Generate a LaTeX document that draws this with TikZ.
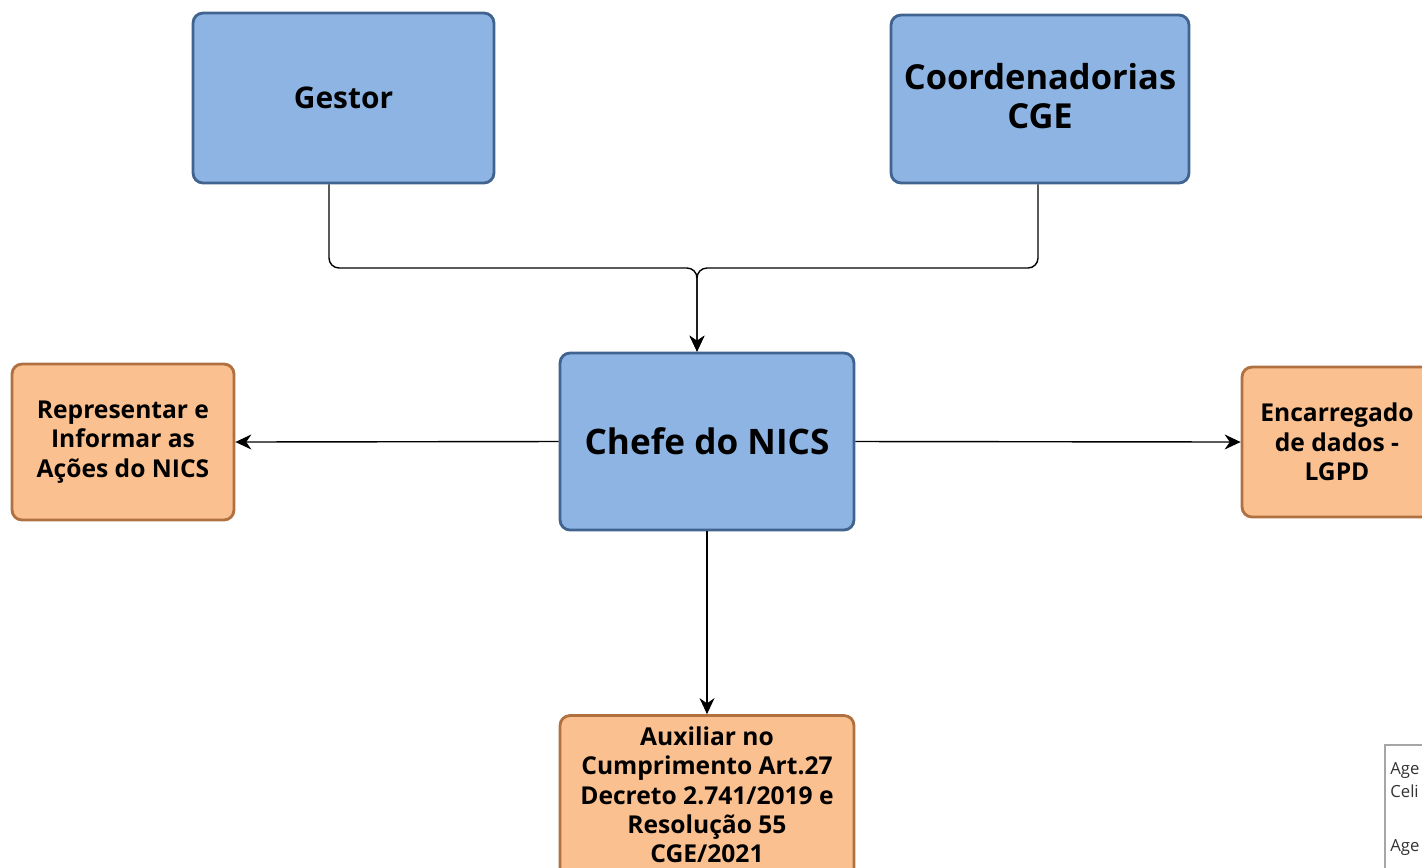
\documentclass[tikz,border=0pt]{standalone}
\usepackage{fontspec}
\setmainfont{Open Sans}
\usetikzlibrary{arrows.meta, positioning}

\definecolor{bluefill}{HTML}{8EB4E3}
\definecolor{blueline}{HTML}{41638F}
\definecolor{orangefill}{HTML}{FAC08F}
\definecolor{orangeline}{HTML}{B07040}

\begin{document}
\begin{tikzpicture}[
            x=0.02cm, y=-0.02cm,
            % Stile per i riquadri blu
            mainbox/.style={draw=blueline, fill=bluefill, line width=1.6pt, rounded corners=0.2cm, align=center, inner sep=0pt},
            % Stile per i riquadri arancioni
            taskbox/.style={draw=orangeline, fill=orangefill, line width=1.6pt, rounded corners=0.2cm, align=center, inner sep=0pt,
                font=\fontsize{14}{16.7}\selectfont\bfseries},
            % Stile per il testo del riquadro tagliato
            note/.style={anchor=base west, inner sep=0pt, text=black!80, font=\fontsize{9.5}{11}\selectfont},
            % Stile per le frecce
            link/.style={black, line width=0.8pt, rounded corners=0.2cm, -{Stealth[length=0.32cm, width=0.3cm]}}
        ]

            \useasboundingbox (0,0) rectangle (1422,867);

            % --- Livello superiore ---
            \node[mainbox, minimum width=6.02cm, minimum height=3.4cm, font=\fontsize{17}{20}\selectfont\bfseries]
                (gestor) at (343.5,98) {Gestor};
            \node[mainbox, minimum width=5.96cm, minimum height=3.36cm, font=\fontsize{19.6}{22}\selectfont\bfseries,
                text depth=0pt] (coord) at (1040,99) {};
            \node[font=\fontsize{19.6}{22}\selectfont\bfseries, align=center, inner sep=0pt] (coordtxt) at (1040,96)
                {Coordenadorias\\CGE};

            % --- Chefe ---
            \node[mainbox, minimum width=5.88cm, minimum height=3.54cm, font=\fontsize{20}{23}\selectfont\bfseries]
                (chefe) at (707,441.5) {Chefe do NICS};

            % --- Attivita ---
            \node[taskbox, minimum width=4.44cm, minimum height=3.12cm] (repr) at (123,442) {Representar e\\Informar as\\Ações do NICS};
            \node[taskbox, minimum width=3.8cm, minimum height=3.0cm] (lgpd) at (1337,442) {Encarregado\\de dados -\\LGPD};
            \node[taskbox, minimum width=5.88cm, minimum height=3.3cm] (aux) at (707,798) {};
            \node[font=\fontsize{14}{16.7}\selectfont\bfseries, align=center, inner sep=0pt] (auxtxt) at (707,795)
                {Auxiliar no\\Cumprimento Art.27\\Decreto 2.741/2019 e\\Resolução 55\\CGE/2021};

            % Riquadro tagliato in basso a destra
            \draw[black!35, line width=0.8pt, fill=white] (1385,745) rectangle (1440,890);
            \node[note] (agea) at (1390,774) {Age};
            \node[note] (celi) at (1390,797) {Celi};
            \node[note] (ageb) at (1390,851) {Age};

            % --- Frecce ---
            \coordinate (join) at (697,268);
            \draw[link] ([xshift=-0.29cm]gestor.south) |- (join) -- (join |- chefe.north);
            \draw[link] ([xshift=-0.04cm]coord.south) |- (join) -- (join |- chefe.north);
            \draw[link] (chefe.west) -- (repr.east);
            \draw[link] (chefe.east) -- (lgpd.west);
            \draw[link] (chefe.south) -- (aux.north);

        \end{tikzpicture}
\end{document}
